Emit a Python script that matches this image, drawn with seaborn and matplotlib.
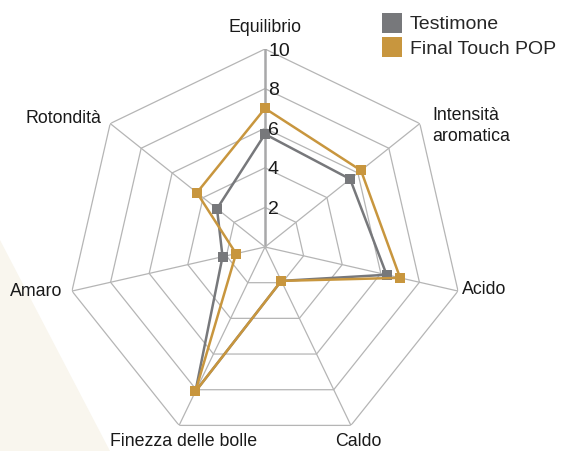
import numpy as np
import pandas as pd
import matplotlib
matplotlib.use("Agg")
import matplotlib.pyplot as plt
import matplotlib.transforms as mtransforms
from matplotlib.lines import Line2D
from matplotlib.patches import Polygon
import seaborn as sns

categories = ["Equilibrio", "Intensità\naromatica", "Acido", "Caldo",
              "Finezza delle bolle", "Amaro", "Rotondità"]
testimone = [5.7, 5.5, 6.3, 1.9, 8.1, 2.2, 3.1]
final_touch = [7.0, 6.2, 7.0, 1.9, 8.1, 1.5, 4.4]
series_names = ["Testimone", "Final Touch POP"]
ring_levels = [2, 4, 6, 8, 10]
colors = {"Testimone": "#77787b", "Final Touch POP": "#c8963e"}

sns.set_theme(style="white")
plt.rcParams["font.family"] = ["Liberation Sans", "DejaVu Sans"]

fig = plt.figure(figsize=(5.63, 4.51), dpi=100)
fig.patch.set_facecolor("white")
# faint beige background triangle
fig.patches.append(Polygon([(0, 1 - 240 / 451), (110 / 563, 0), (0, 0)],
                           closed=True, transform=fig.transFigure,
                           facecolor="#f9f6ee", edgecolor="none", zorder=0))

cx, cy, R = 265, 247, 198
ax = fig.add_axes([(cx - R) / 563, (451 - cy - R) / 451, 2 * R / 563, 2 * R / 451],
                  projection="polar")
ax.set_facecolor("none")
ax.set_theta_offset(np.pi / 2)
ax.set_theta_direction(-1)
ax.grid(False)
ax.spines["polar"].set_visible(False)

n = len(categories)
angles = np.linspace(0, 2 * np.pi, n, endpoint=False)
closed = np.append(angles, angles[0] + 2 * np.pi)

# polygonal grid
for lv in ring_levels:
    ax.plot(closed, [lv] * (n + 1), color="#b5b5b5", lw=0.9, zorder=1)
for i, a in enumerate(angles):
    if i == 0:
        ax.plot([a, a], [0, 10], color="#a8a8a9", lw=1.8, zorder=1)
    else:
        ax.plot([a, a], [0, 10], color="#b5b5b5", lw=0.9, zorder=1)

rows = []
for name, vals in zip(series_names, [testimone, final_touch]):
    v = list(vals) + [vals[0]]
    for t, val in zip(closed, v):
        rows.append({"theta": t, "value": val, "series": name})
df = pd.DataFrame(rows)

for name in series_names:
    sub = df[df["series"] == name]
    sns.lineplot(data=sub, x="theta", y="value", sort=False, estimator=None,
                 color=colors[name], lw=1.8, marker="s", markersize=7.5,
                 markeredgewidth=0, ax=ax, legend=False, zorder=3)
ax.set_xlabel("")
ax.set_ylabel("")
ax.set_xticks([])
ax.set_yticks([])
ax.set_ylim(0, 10)

# ring value labels
offset = mtransforms.ScaledTranslation(3 / 100, -2 / 100, fig.dpi_scale_trans)
for lv in ring_levels:
    ax.text(0, lv, str(lv), transform=ax.transData + offset, fontsize=14,
            color="#1a1a1a", ha="left", va="center")

# category labels (pixel positions -> figure fraction)
label_pos = {
    "Equilibrio": (265, 27, "center"),
    "Intensità\naromatica": (432, 126, "left"),
    "Acido": (462, 289, "left"),
    "Caldo": (358, 441, "center"),
    "Finezza delle bolle": (184, 441, "center"),
    "Amaro": (62, 292, "right"),
    "Rotondità": (101, 118, "right"),
}
for cat in categories:
    x, y, ha = label_pos[cat]
    fig.text(x / 563, 1 - y / 451, cat, ha=ha, va="center", fontsize=12.8,
             color="#1a1a1a", linespacing=1.3)

handles = [Line2D([], [], marker="s", linestyle="None", markersize=15,
                  markerfacecolor=colors[s], markeredgewidth=0) for s in series_names]
fig.legend(handles, series_names, loc="upper left",
           bbox_to_anchor=(371 / 563, 1 - 6 / 451), frameon=False,
           fontsize=14, handletextpad=0.3, labelspacing=0.35, borderpad=0,
           handlelength=1.2)

fig.savefig("out.png", dpi=100)
